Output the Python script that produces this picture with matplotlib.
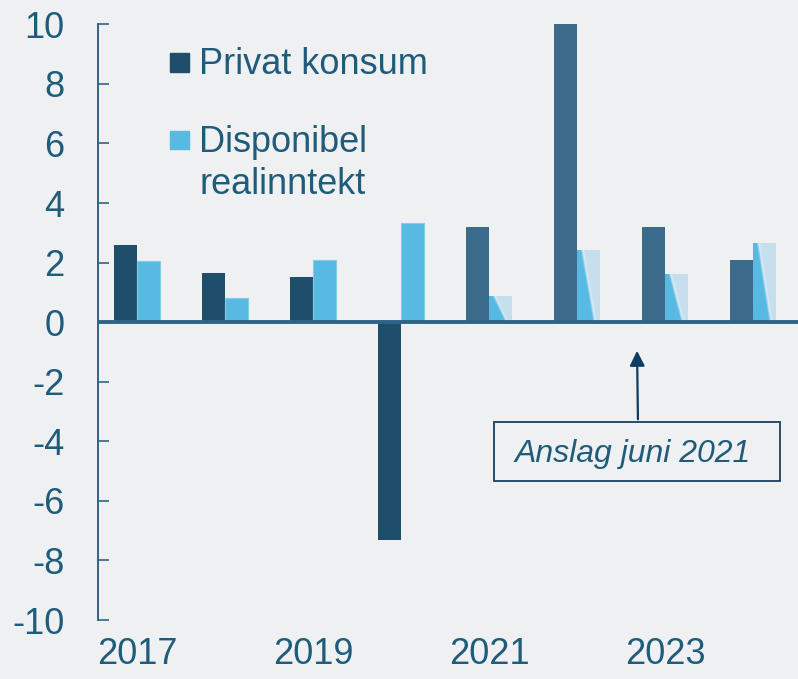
import numpy as np
import matplotlib
matplotlib.use('Agg')
from matplotlib import pyplot as plt
from matplotlib.colors import LinearSegmentedColormap
from matplotlib.patches import Rectangle

years = [2017, 2018, 2019, 2020, 2021, 2022, 2023, 2024]
privat_konsum = [2.6, 1.65, 1.5, -7.3, 3.2, 10.0, 3.2, 2.1]
disponibel = [2.05, 0.8, 2.1, 3.33, 0.85, 2.4, 1.6, 2.65]
first_forecast = 2021
xtick_years = [2017, 2019, 2021, 2023]
yticks = [-10, -8, -6, -4, -2, 0, 2, 4, 6, 8, 10]

bg = '#EFF0F2'
txt = '#1F5B7A'
dark = '#1F4E6B'
dark_fc = '#3B6A8A'
light = '#58B9E3'
pale = '#C6DFEE'

plt.rcParams['font.family'] = ['Liberation Sans', 'DejaVu Sans']

fig = plt.figure(figsize=(7.98, 6.79), dpi=100, facecolor=bg)
ax = fig.add_axes([98 / 798, 59 / 679, 700 / 798, 595.7 / 679], facecolor=bg)

w = 0.26
x = np.array(years, dtype=float)
fc = x >= first_forecast

# privat konsum
ax.bar(x - w / 2, privat_konsum, width=w, color=[dark_fc if f else dark for f in fc], zorder=2)

# disponibel realinntekt, historic bars solid
for xi, v, f in zip(x, disponibel, fc):
    if not f:
        ax.bar(xi + w / 2, v, width=w, color=light, edgecolor='#86CBEA', linewidth=0.8, zorder=2)

# forecast bars with diagonal gradient (blue lower left, pale upper right)
cmap = LinearSegmentedColormap.from_list('fc', [(0, light), (0.45, light), (0.49, '#9FD4EE'),
                                                (0.52, '#E2EFF6'), (0.56, pale), (1, pale)])
nx, ny = 60, 120
gx, gy = np.meshgrid(np.linspace(0, 1, nx), np.linspace(0, 1, ny))
grad = (gx + 0.55 * gy) / 1.55
for xi, v, f in zip(x, disponibel, fc):
    if f:
        ax.imshow(cmap(grad), extent=[xi, xi + w, 0, v], origin='lower',
                  aspect='auto', interpolation='bilinear', zorder=2)

ax.axhline(0, color='#2E6487', lw=2.8, zorder=3)

ax.set_xlim(2016.557, 2024.511)
ax.set_ylim(-10, 10)

for s in ['top', 'right', 'bottom']:
    ax.spines[s].set_visible(False)
ax.spines['left'].set_color(txt)
ax.spines['left'].set_linewidth(1.3)

ax.set_yticks(yticks)
ax.set_yticklabels([str(t) for t in yticks])
ax.tick_params(axis='y', direction='in', length=8, width=1.1, color=txt, pad=24,
               labelsize=26, labelcolor=txt)
ax.set_xticks(xtick_years)
ax.set_xticklabels([str(t) for t in xtick_years])
ax.tick_params(axis='x', length=0, pad=12, labelsize=26, labelcolor=txt)

# legend
ax.add_patch(Rectangle((0.1029, 0.920), 0.0271, 0.0319, transform=ax.transAxes, color=dark, clip_on=False))
ax.text(0.1443, 0.9166, 'Privat konsum', transform=ax.transAxes, fontsize=26, color=txt, va='baseline')
ax.add_patch(Rectangle((0.1029, 0.7906), 0.0271, 0.0302, transform=ax.transAxes, color=light, clip_on=False))
ax.text(0.1443, 0.7856, 'Disponibel', transform=ax.transAxes, fontsize=26, color=txt, va='baseline')
ax.text(0.1443, 0.7151, 'realinntekt', transform=ax.transAxes, fontsize=26, color=txt, va='baseline')

# annotation
ax.add_patch(Rectangle((0.5657, 0.2333), 0.4086, 0.099, transform=ax.transAxes,
                       facecolor=bg, edgecolor='#173F5F', lw=1.3, zorder=4))
ax.text(0.5957, 0.2652, 'Anslag juni 2021', transform=ax.transAxes, fontsize=23,
        style='italic', color=txt, va='baseline', zorder=5)
ax.annotate('', xy=(0.77, 0.4566), xytext=(0.7714, 0.3323), xycoords='axes fraction',
            arrowprops=dict(arrowstyle='-|>,head_length=0.9,head_width=0.45', color='#0F3D5F', lw=1.6))

fig.savefig('out.png', dpi=100, facecolor=bg)
